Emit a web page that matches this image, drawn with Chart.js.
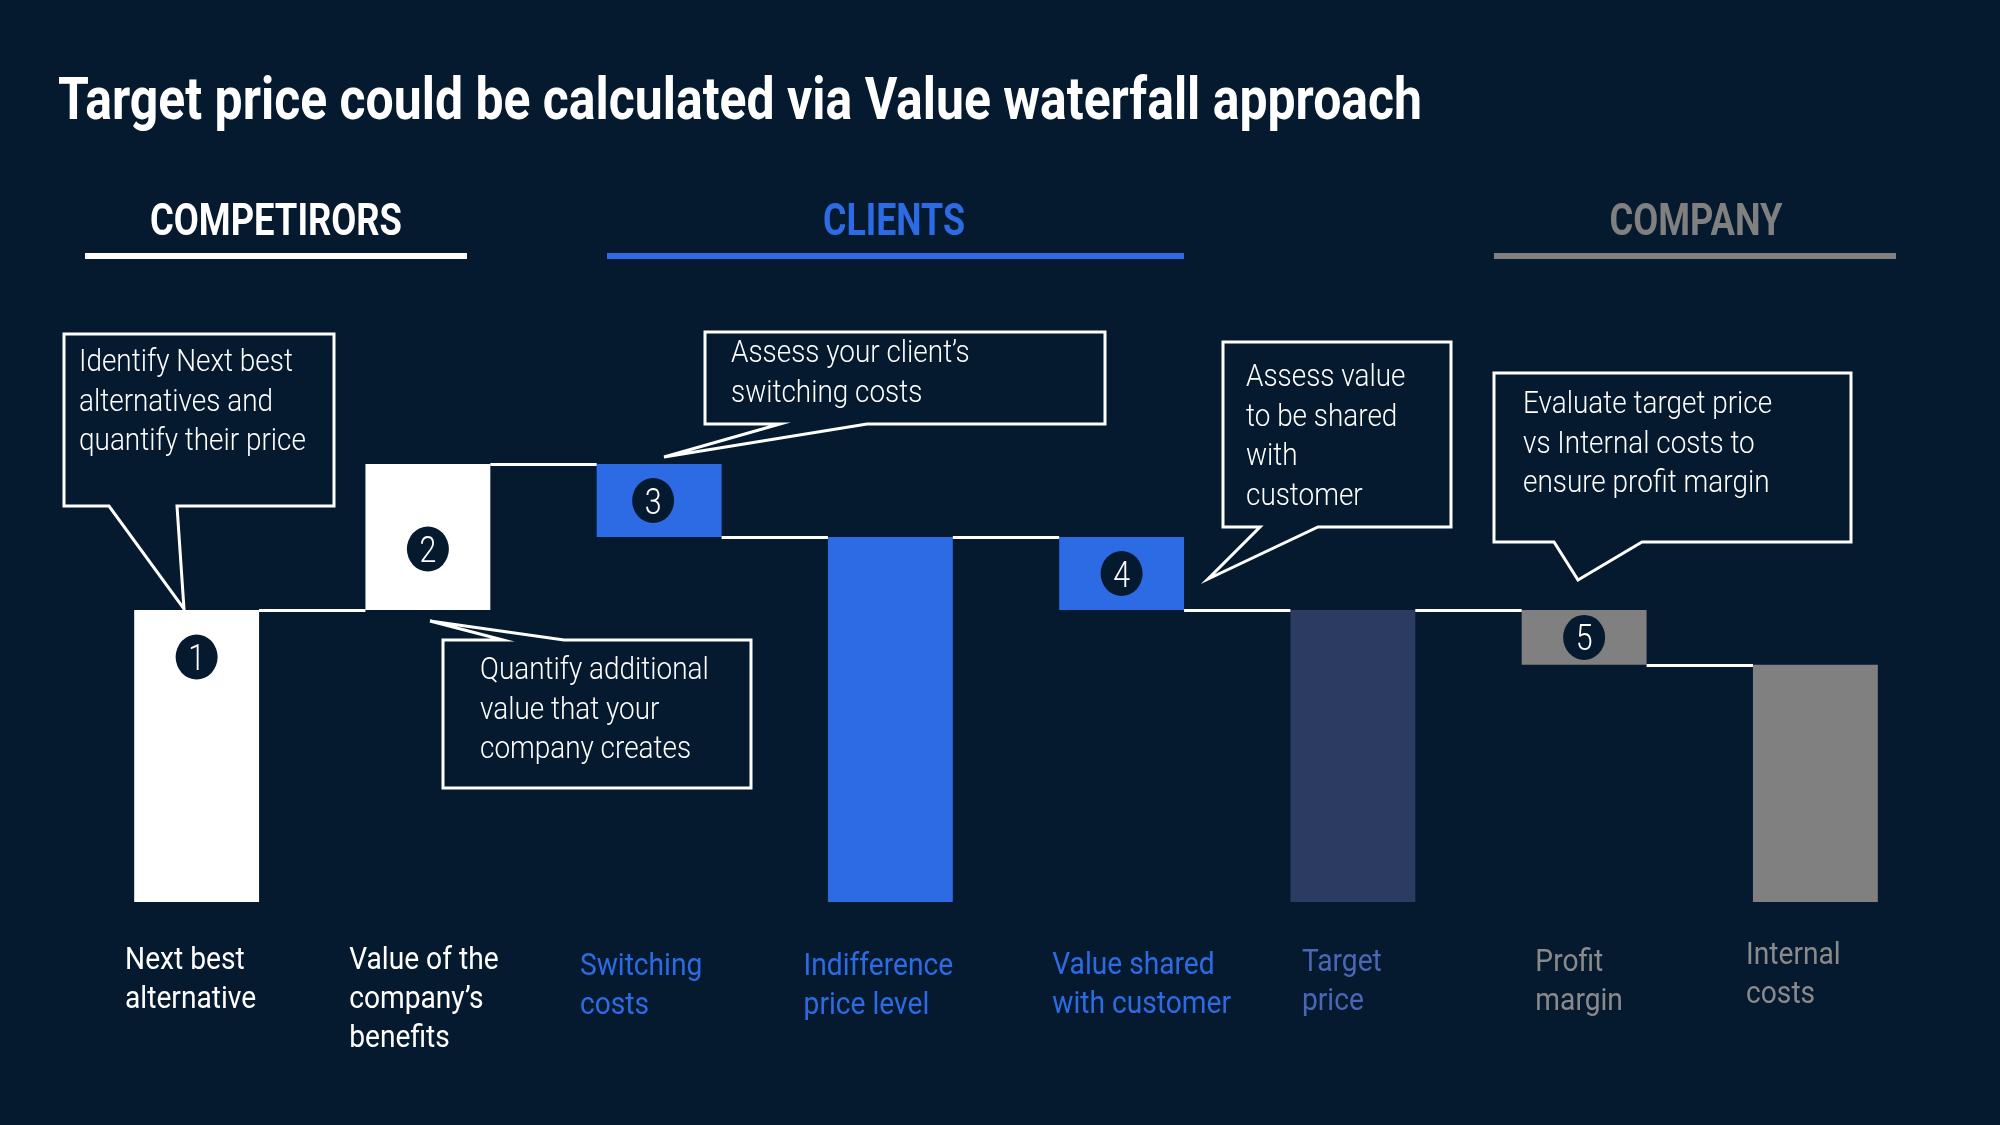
<!DOCTYPE html>
<html>
<head>
<meta charset="utf-8">
<script src="https://cdn.jsdelivr.net/npm/chart.js@4.4.1/dist/chart.umd.min.js"></script>
<style>
  html, body { margin: 0; padding: 0; background: #061a2f; overflow: hidden; }
  #wrap { width: 2000px; height: 1125px; }
</style>
</head>
<body>
<div id="wrap"><canvas id="chart" width="2000" height="1125"></canvas></div>
<script>
const title = 'Target price could be calculated via Value waterfall approach';
const groups = ['COMPETIRORS', 'CLIENTS', 'COMPANY'];

const categories = [
  ['Next best', 'alternative'],
  ['Value of the', 'company\u2019s', 'benefits'],
  ['Switching', 'costs'],
  ['Indifference', 'price level'],
  ['Value shared', 'with customer'],
  ['Target', 'price'],
  ['Profit', 'margin'],
  ['Internal', 'costs'],
];
const values  = [40, 20, -10, 50, -10, 40, -7.5, 32.5];
const isTotal = [true, false, false, true, false, true, false, true];
const stepNumbers = ['1', '2', '3', null, '4', null, '5', null];

const notes = [
  ['Identify Next best', 'alternatives and', 'quantify their price'],
  ['Assess your client\u2019s', 'switching costs'],
  ['Quantify additional', 'value that your', 'company creates'],
  ['Assess value', 'to be shared', 'with', 'customer'],
  ['Evaluate target price', 'vs Internal costs to', 'ensure profit margin'],
];

// waterfall ranges built from the values
const ranges = [];
const levels = [];
let running = 0;
values.forEach((v, i) => {
  if (isTotal[i]) { ranges.push([0, v]); running = v; }
  else { ranges.push([Math.min(running, running + v), Math.max(running, running + v)]); running += v; }
  levels.push(running);
});

const BG = '#061a2f';
const BLUE = '#2d6be4';
const GREY = '#808080';
const barColors   = ['#ffffff', '#ffffff', BLUE, BLUE, BLUE, '#2b3b62', GREY, GREY];
const labelColors = ['#ffffff', '#ffffff', BLUE, BLUE, BLUE, '#4a66b5', '#8a8a8a', '#8a8a8a'];
const FONT = 'Roboto, "Noto Sans", sans-serif';

function txt(ctx, s, x, y, font, color, sx, align) {
  ctx.save();
  ctx.font = font;
  ctx.fillStyle = color;
  ctx.textBaseline = 'alphabetic';
  ctx.textAlign = 'left';
  const w = ctx.measureText(s).width * sx;
  const x0 = align === 'center' ? x - w / 2 : x;
  ctx.translate(x0, y);
  ctx.scale(sx, 1);
  ctx.fillText(s, 0, 0);
  ctx.restore();
  return w;
}
function fitScale(ctx, s, font, width) {
  ctx.font = font;
  return width / ctx.measureText(s).width;
}

function callout(ctx, box, tail, side) {
  const [x1, y1, x2, y2] = box;
  const [ta, tb, tx, ty] = tail;
  ctx.save();
  ctx.beginPath();
  if (side === 'bottom') {
    ctx.moveTo(x1, y1); ctx.lineTo(x2, y1); ctx.lineTo(x2, y2);
    ctx.lineTo(tb, y2); ctx.lineTo(tx, ty); ctx.lineTo(ta, y2);
    ctx.lineTo(x1, y2);
  } else {
    ctx.moveTo(x1, y1); ctx.lineTo(ta, y1); ctx.lineTo(tx, ty); ctx.lineTo(tb, y1);
    ctx.lineTo(x2, y1); ctx.lineTo(x2, y2); ctx.lineTo(x1, y2);
  }
  ctx.closePath();
  ctx.fillStyle = BG;
  ctx.fill();
  ctx.lineWidth = 3;
  ctx.lineJoin = 'miter';
  ctx.strokeStyle = '#ffffff';
  ctx.stroke();
  ctx.restore();
}

const decor = {
  id: 'decor',
  afterDatasetsDraw(chart) {
    const ctx = chart.ctx;
    const y = chart.scales.y;
    const bars = chart.getDatasetMeta(0).data;

    // connector lines
    ctx.save();
    ctx.strokeStyle = '#ffffff';
    ctx.lineWidth = 3;
    for (let i = 0; i < bars.length - 1; i++) {
      const a = bars[i], b = bars[i + 1];
      const py = Math.round(y.getPixelForValue(levels[i])) + 0.5;
      ctx.beginPath();
      ctx.moveTo(a.x + a.width / 2, py);
      ctx.lineTo(b.x - b.width / 2, py);
      ctx.stroke();
    }
    ctx.restore();

    // step numbers
    const numDx = [0, 0, -6, 0, 0, 0, 0, 0];
    const numDy = [0, 12, 0, 0, 0, 0, 0, 0];
    bars.forEach((bar, i) => {
      if (!stepNumbers[i]) return;
      const cx = bar.x + numDx[i];
      const cy = (isTotal[i] ? bar.y + 47 : (bar.y + bar.base) / 2) + numDy[i];
      ctx.save();
      ctx.beginPath();
      ctx.ellipse(cx, cy, 21, 22.5, 0, 0, Math.PI * 2);
      ctx.fillStyle = BG;
      ctx.fill();
      ctx.restore();
      txt(ctx, stepNumbers[i], cx, cy + 13, '300 37px ' + FONT, '#ffffff', 0.82, 'center');
    });
  },
  afterDraw(chart) {
    const ctx = chart.ctx;
    const bars = chart.getDatasetMeta(0).data;

    // title
    const tf = 'bold 59px ' + FONT;
    txt(ctx, title, 58, 119, tf, '#ffffff', fitScale(ctx, title, tf, 1364), 'left');

    // group headers
    const hf = 'bold 45px ' + FONT;
    const heads = [
      { c: 276, w: 252, col: '#ffffff', l: 85, r: 467 },
      { c: 894, w: 142, col: BLUE, l: 607, r: 1184 },
      { c: 1696, w: 173, col: GREY, l: 1494, r: 1896 },
    ];
    heads.forEach((h, i) => {
      txt(ctx, groups[i], h.c, 235, hf, h.col, fitScale(ctx, groups[i], hf, h.w), 'center');
      ctx.fillStyle = h.col;
      ctx.fillRect(h.l, 253, h.r - h.l, 6);
    });

    // callouts
    const nf = '300 31px ' + FONT;
    const ns = 0.9;
    const specs = [
      { box: [64, 334, 334, 506], tail: [109, 177, 184, 609], side: 'bottom', tx: 79, ty: 371 },
      { box: [705, 332, 1105, 424], tail: [780, 867, 664, 457], side: 'bottom', tx: 731, ty: 362 },
      { box: [443, 640, 751, 788], tail: [503, 564, 430, 621], side: 'top', tx: 480, ty: 679 },
      { box: [1223, 342, 1451, 527], tail: [1260, 1318, 1208, 579], side: 'bottom', tx: 1246, ty: 386 },
      { box: [1494, 373, 1851, 542], tail: [1554, 1642, 1578, 580], side: 'bottom', tx: 1523, ty: 413 },
    ];
    specs.forEach((s, i) => {
      callout(ctx, s.box, s.tail, s.side);
      notes[i].forEach((line, j) => txt(ctx, line, s.tx, s.ty + j * 39.5, nf, '#ffffff', ns, 'left'));
    });

    // category labels below bars
    const lf = '400 32px ' + FONT;
    const ls = 0.88;
    const nudgeX = [-6, -4, -18, -12, 20, -11, -5, -22];
    const baseY = [969, 969, 975, 975, 974, 971, 971, 964];
    bars.forEach((bar, i) => {
      ctx.font = lf;
      const w = Math.max(...categories[i].map(t => ctx.measureText(t).width)) * ls;
      const x0 = bar.x - w / 2 + nudgeX[i];
      categories[i].forEach((line, j) => txt(ctx, line, x0, baseY[i] + j * 39, lf, labelColors[i], ls, 'left'));
    });
  }
};

new Chart(document.getElementById('chart'), {
  type: 'bar',
  data: {
    labels: categories,
    datasets: [{
      data: ranges,
      backgroundColor: barColors,
      borderWidth: 0,
      borderSkipped: false,
      barPercentage: 0.54,
      categoryPercentage: 1,
    }],
  },
  options: {
    responsive: false,
    animation: false,
    devicePixelRatio: 1,
    layout: { padding: { left: 81, right: 69, top: 318, bottom: 223 } },
    plugins: { legend: { display: false }, tooltip: { enabled: false }, title: { display: false } },
    scales: {
      x: { display: false },
      y: { display: false, min: 0, max: 80 },
    },
  },
  plugins: [decor],
});
</script>
</body>
</html>
